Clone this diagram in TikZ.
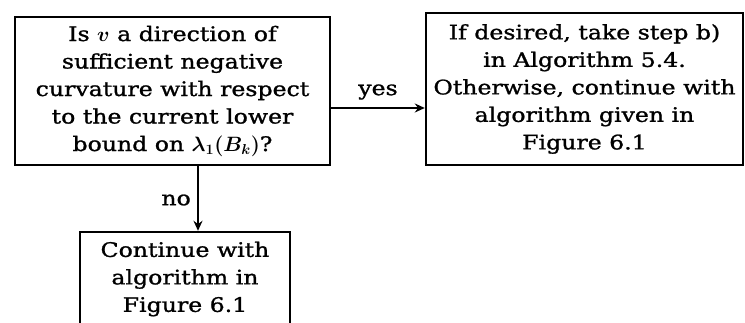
\documentclass[tikz,border=0pt]{standalone}
\usepackage{fontspec}
\setmainfont{DejaVu Serif}[FakeStretch=1.18,FakeBold=1.2]
\usetikzlibrary{arrows.meta}
\begin{document}
\begin{tikzpicture}[x=1pt,y=1pt,
  box/.style={draw, line width=2.4pt, align=center, inner sep=0pt,
    font=\fontsize{20}{27.5}\selectfont\boldmath},
  lab/.style={font=\fontsize{20}{22}\selectfont, inner sep=0pt},
  conn/.style={line width=2.4pt, -{Stealth[length=10pt,width=9pt]}}]
\useasboundingbox (0,0) rectangle (745,-323);
\clip (0,0) rectangle (745,-323);
\node[box, minimum width=315pt, minimum height=148pt] (a) at (172.5,-91)
  {Is $v$ a direction of\\ sufficient negative\\ curvature with respect\\ to the current lower\\ bound on $\lambda_1(B_k)$?};
\node[box, minimum width=317pt, minimum height=152pt] (b) at (584.5,-89)
  {If desired, take step b)\\ in Algorithm 5.4.\\ Otherwise, continue with\\ algorithm given in\\ Figure 6.1};
\node[box, minimum width=210pt, minimum height=94pt] (c) at (185,-279)
  {Continue with\\ algorithm in\\ Figure 6.1};
\coordinate (ay) at (0,-108);
\coordinate (ax) at (198,0);
\draw[conn] (a.east |- ay) -- (b.west |- ay);
\draw[conn] (a.south -| ax) -- (c.north -| ax);
\node[lab] (yes) at (378,-92) {yes};
\node[lab, anchor=east] (no) at (191,-200) {no};
\end{tikzpicture}
\end{document}
